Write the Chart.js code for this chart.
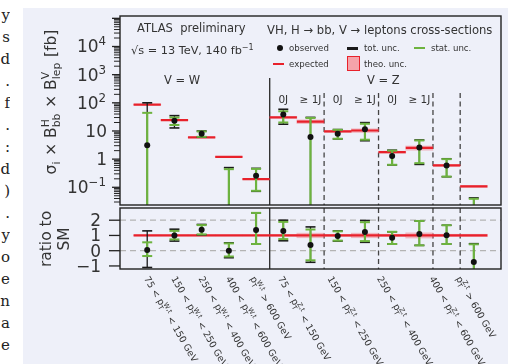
<!DOCTYPE html>
<html lang="en">
<head>
<meta charset="UTF-8">
<title>VH, H to bb cross-sections</title>
<script src="https://cdn.jsdelivr.net/npm/chart.js"></script>
<style>
  body { margin: 0; width: 508px; height: 364px; overflow: hidden; background: #fff; position: relative;
         font-family: 'DejaVu Sans', sans-serif; color: #333; }
  .page { position: absolute; left: 23px; top: 8px; right: 0; bottom: 0; background: #eef0f9; }
  .margin { position: absolute; left: 0; top: 4px; width: 10px; text-align: right; font-family: 'DejaVu Serif', serif;
            font-size: 15px; line-height: 22px; color: #222; overflow: hidden; }
  canvas { position: absolute; left: 0; }
  #main { top: 0; }
  #ratio { top: 200px; }
  .t { position: absolute; white-space: nowrap; line-height: 1; }
  .leg { font-size: 8.6px; }
  .sw { position: absolute; }
</style>
</head>
<body>
<div class="page"></div>
<div class="margin">y<br>s<br>d<br>.<br>f<br>.<br>:<br>d<br>)<br>.<br>y<br>o<br>e<br>n<br>a<br>e</div>

<canvas id="main" width="508" height="212"></canvas>
<canvas id="ratio" width="508" height="164"></canvas>

<div class="t" style="left:137px;top:22.5px;font-size:11.5px">ATLAS&nbsp; preliminary</div>
<div class="t" style="left:131px;top:44.5px;font-size:11.3px">√s = 13 TeV, 140 fb<span style="font-size:8px;position:relative;top:-4px">−1</span></div>
<div class="t" style="left:164px;top:74.5px;font-size:11.5px">V = W</div>
<div class="t" style="left:367px;top:74.5px;font-size:11.5px">V = Z</div>
<div class="t" style="left:267px;top:24.5px;font-size:11.6px">VH, H → bb, V → leptons cross-sections</div>

<!-- legend -->
<div class="sw" style="left:277px;top:45px;width:6px;height:6px;border-radius:50%;background:#111"></div>
<div class="t leg" style="left:289px;top:44px">observed</div>
<div class="sw" style="left:347px;top:47px;width:11px;height:2.5px;background:#1a1a1a"></div>
<div class="t leg" style="left:364px;top:44px">tot. unc.</div>
<div class="sw" style="left:414px;top:47px;width:11px;height:2px;background:#6db33f"></div>
<div class="t leg" style="left:431px;top:44px">stat. unc.</div>
<div class="sw" style="left:273px;top:63px;width:11px;height:2px;background:#e8212b"></div>
<div class="t leg" style="left:289px;top:60px">expected</div>
<div class="sw" style="left:347px;top:56px;width:11px;height:13px;background:#f5a3aa;border:1px solid #e8212b"></div>
<div class="t leg" style="left:364px;top:60px">theo. unc.</div>

<script>
const FONT = "'DejaVu Sans', sans-serif";
const INK = '#333';
const RED = '#e8212b';
const GREEN = '#6db33f';
const BLACK = '#1a1a1a';
const BAND = 'rgba(240, 110, 122, 0.45)';

// 13 bins: 5 for V = W, 8 for V = Z
const binNames = ['W 75-150', 'W 150-250', 'W 250-400', 'W 400-600', 'W >600',
  'Z 75-150 0J', 'Z 75-150 >=1J', 'Z 150-250 0J', 'Z 150-250 >=1J',
  'Z 250-400 0J', 'Z 250-400 >=1J', 'Z 400-600', 'Z >600'];
const jetLabels = ['', '', '', '', '', '0J', '≥ 1J', '0J', '≥ 1J', '0J', '≥ 1J', '', ''];

// upper panel, fb (1e-3 = below the axis)
const expected = [86, 24.4, 5.9, 1.21, 0.195, 30.4, 21.5, 9.6, 10.4, 1.77, 2.5, 0.60, 0.108];
const observed = [3.1, 23.3, 7.9, null, 0.257, 38.6, 6.1, 7.9, 11.6, 1.28, 2.6, 0.60, null];
const totLo  = [1e-3, 12.8, 6.0, 1e-3, 0.072, 17.4, 1e-3, 5.2, 4.5, 0.62, 0.65, 0.237, 1e-3];
const totHi  = [100, 35, 10, 0.5, 0.47, 59, 30.4, 11.2, 19.8, 2.08, 4.8, 1.03, 0.042];
const statLo = [1e-3, 16.3, 6.2, 1e-3, 0.075, 20, 1e-3, 5.3, 4.9, 0.63, 0.72, 0.24, 1e-3];
const statHi = [44, 30, 9.6, 0.44, 0.45, 50, 29, 11.0, 18, 2.0, 4.6, 1.0, 0.039];
const theoRel = [0.03, 0.03, 0.03, 0.03, 0.03, 0.06, 0.15, 0.07, 0.15, 0.08, 0.17, 0.08, 0.08];

// ratio panel
const smRatio = 1;
const ratioObs    = [0.05, 1.0, 1.37, 0.0, 1.35, 1.3, 0.37, 0.96, 1.22, 0.85, 1.1, 1.02, -0.74];
const ratioTotLo  = [-1.1, 0.63, 1.04, -0.46, 0.44, 0.65, -0.76, 0.63, 0.55, 0.44, 0.35, 0.44, -2];
const ratioTotHi  = [1.3, 1.41, 1.72, 0.52, 2.48, 2.0, 1.56, 1.3, 1.98, 1.24, 1.95, 1.67, 0.46];
const ratioStatLo = [-0.35, 0.74, 1.07, -0.38, 0.44, 0.76, -0.63, 0.66, 0.63, 0.44, 0.35, 0.44, -2];
const ratioStatHi = [0.55, 1.3, 1.68, 0.48, 2.48, 1.89, 1.39, 1.27, 1.87, 1.24, 1.95, 1.67, 0.42];
const ratioGuides = [0, 2];

// axes
const yTickValues = [0.1, 1, 10, 100, 1000, 10000];
const yTickLabels = [['10', {sup: '−1'}], ['1'], ['10'], ['10', {sup: '2'}], ['10', {sup: '3'}], ['10', {sup: '4'}]];
const ratioTicks = [-1, 0, 1, 2];
const ratioTickLabels = ['−1', '0', '1', '2'];
const wzBoundary = [5];
const ptBoundaries = [7, 9, 11, 12];
const xLabelAt = [0.6, 1.6, 2.6, 3.6, 4.5, 5.52, 7.34, 9.16, 11.08, 12.06];
const pW = {sup: 'W,t', sub: 'T'};
const pZ = {sup: 'Z,t', sub: 'T'};
const xLabels = [
  ['75 < p', pW, ' < 150 GeV'], ['150 < p', pW, ' < 250 GeV'], ['250 < p', pW, ' < 400 GeV'],
  ['400 < p', pW, ' < 600 GeV'], ['p', pW, ' > 600 GeV'],
  ['75 < p', pZ, ' < 150 GeV'], ['150 < p', pZ, ' < 250 GeV'], ['250 < p', pZ, ' < 400 GeV'],
  ['400 < p', pZ, ' < 600 GeV'], ['p', pZ, ' > 600 GeV']
];
const yTitle = ['σ', {sub: 'i'}, ' × B', {sup: 'H', sub: 'bb'}, ' × B', {sup: 'V', sub: 'lep'}, ' [fb]'];

// text with sub/superscripts, returns width
function rich(ctx, parts, x, y, size, draw) {
  let cx = x;
  for (const p of parts) {
    if (typeof p === 'string') {
      ctx.font = size + 'px ' + FONT;
      if (draw) ctx.fillText(p, cx, y);
      cx += ctx.measureText(p).width;
    } else {
      const s = size * 0.7;
      ctx.font = s + 'px ' + FONT;
      let w = 0;
      if (p.sup) { if (draw) ctx.fillText(p.sup, cx, y - size * 0.42); w = Math.max(w, ctx.measureText(p.sup).width); }
      if (p.sub) { if (draw) ctx.fillText(p.sub, cx, y + size * 0.25); w = Math.max(w, ctx.measureText(p.sub).width); }
      cx += w + size * 0.05;
    }
  }
  return cx - x;
}

const centers = binNames.map((_, i) => i + 0.5);

function segs(lo, hi) {
  const out = [];
  centers.forEach((c, i) => { out.push({x: c, y: lo[i]}, {x: c, y: hi[i]}, {x: c, y: null}); });
  return out;
}
function caps(lo, hi) {
  const out = [];
  centers.forEach((c, i) => { out.push({x: c, y: lo[i]}, {x: c, y: hi[i]}); });
  return out;
}
function errorSets(lo, hi, color, width, capWidth, order) {
  return [
    {type: 'scatter', data: caps(lo, hi), pointStyle: 'line', pointRadius: 5,
     pointBorderColor: color, pointBorderWidth: capWidth, order: order, clip: 0},
    {type: 'line', data: segs(lo, hi), borderColor: color, borderWidth: width, pointRadius: 0,
     spanGaps: false, order: order + 1, clip: 0}
  ];
}
function points(vals) {
  return centers.map((c, i) => ({x: c, y: vals[i]}));
}
function bandSet(lo, hi) {
  return {type: 'bar', data: centers.map((c, i) => ({x: c, y: [lo[i], hi[i]]})), backgroundColor: BAND,
          grouped: false, barPercentage: 1, categoryPercentage: 1, order: 9};
}

function yAxis(extra) {
  return Object.assign({
    position: 'left', bounds: 'data',
    grid: {display: false}, border: {display: false}, ticks: {display: false},
    afterFit(s) { s.width = 120; }
  }, extra);
}
const xAxis = {type: 'linear', min: 0, max: 13, display: false, ticks: {stepSize: 1}};

function drawFrame(ctx, a) {
  ctx.strokeStyle = '#222';
  ctx.lineWidth = 1.4;
  ctx.setLineDash([]);
  ctx.strokeRect(a.left, a.top, a.right - a.left, a.bottom - a.top);
}
function drawSeparators(ctx, a, x, solidTop, dashTop) {
  ctx.strokeStyle = '#333';
  ctx.lineWidth = 1.4;
  wzBoundary.forEach(v => {
    const px = x.getPixelForValue(v);
    ctx.beginPath(); ctx.moveTo(px, solidTop); ctx.lineTo(px, a.bottom); ctx.stroke();
  });
  ctx.setLineDash([5, 3.5]);
  ctx.lineWidth = 1.3;
  ctx.strokeStyle = '#444';
  ptBoundaries.forEach(v => {
    const px = x.getPixelForValue(v);
    ctx.beginPath(); ctx.moveTo(px, dashTop); ctx.lineTo(px, a.bottom); ctx.stroke();
  });
  ctx.setLineDash([]);
}

const upperDeco = {
  id: 'upperDeco',
  beforeDatasetsDraw(chart) {
    const {ctx, chartArea: a, scales: {x}} = chart;
    ctx.save();
    drawSeparators(ctx, a, x, a.top + 62, a.top + 77);
    ctx.restore();
  },
  afterDraw(chart) {
    const {ctx, chartArea: a, scales: {x, y}} = chart;
    ctx.save();
    drawFrame(ctx, a);
    // log ticks, outside the frame
    for (let d = -2; d <= 5; d++) {
      for (let m = 1; m <= 9; m++) {
        const v = m * Math.pow(10, d);
        if (v < y.min || v > y.max) continue;
        const py = y.getPixelForValue(v);
        const len = m === 1 ? 8 : 6;
        ctx.lineWidth = m === 1 ? 1.3 : 1;
        ctx.beginPath(); ctx.moveTo(a.left - len, py); ctx.lineTo(a.left, py); ctx.stroke();
      }
    }
    ctx.fillStyle = INK;
    ctx.textAlign = 'left';
    ctx.textBaseline = 'alphabetic';
    yTickValues.forEach((v, i) => {
      const w = rich(ctx, yTickLabels[i], 0, 0, 17, false);
      rich(ctx, yTickLabels[i], a.left - 13 - w, y.getPixelForValue(v) + 6, 17, true);
    });
    ctx.font = '10.5px ' + FONT;
    ctx.textAlign = 'center';
    jetLabels.forEach((t, i) => { if (t) ctx.fillText(t, x.getPixelForValue(centers[i]), a.top + 87); });
    ctx.textAlign = 'left';
    ctx.translate(56, 102);
    ctx.rotate(-Math.PI / 2);
    const w = rich(ctx, yTitle, 0, 0, 15.5, false);
    rich(ctx, yTitle, -w / 2, 0, 15.5, true);
    ctx.restore();
  }
};

const ratioDeco = {
  id: 'ratioDeco',
  beforeDatasetsDraw(chart) {
    const {ctx, chartArea: a, scales: {x, y}} = chart;
    ctx.save();
    ctx.strokeStyle = '#b4b4b4';
    ctx.lineWidth = 1.2;
    ctx.setLineDash([6, 4]);
    ratioGuides.forEach(v => {
      const py = y.getPixelForValue(v);
      ctx.beginPath(); ctx.moveTo(a.left, py); ctx.lineTo(a.right, py); ctx.stroke();
    });
    ctx.setLineDash([]);
    drawSeparators(ctx, a, x, a.top, a.top);
    ctx.restore();
  },
  afterDraw(chart) {
    const {ctx, chartArea: a, scales: {x, y}} = chart;
    ctx.save();
    drawFrame(ctx, a);
    ctx.lineWidth = 1.3;
    ratioTicks.forEach(v => {
      const py = y.getPixelForValue(v);
      ctx.beginPath(); ctx.moveTo(a.left - 11, py); ctx.lineTo(a.left, py); ctx.stroke();
    });
    ctx.fillStyle = INK;
    ctx.textAlign = 'right';
    ctx.font = '17px ' + FONT;
    ratioTicks.forEach((v, i) => ctx.fillText(ratioTickLabels[i], a.left - 19, y.getPixelForValue(v) + 6));
    ctx.textAlign = 'left';
    xLabels.forEach((parts, i) => {
      ctx.save();
      ctx.translate(x.getPixelForValue(xLabelAt[i]), a.bottom + 6);
      ctx.rotate(Math.PI / 3);
      rich(ctx, parts, 0, 7, 9.4, true);
      ctx.restore();
    });
    ctx.font = '15.5px ' + FONT;
    ctx.textAlign = 'center';
    ctx.translate(51, 39);
    ctx.rotate(-Math.PI / 2);
    ctx.fillText('ratio to', 0, 0);
    ctx.fillText('SM', 0, 18);
    ctx.restore();
  }
};

const common = {
  responsive: false, animation: false, devicePixelRatio: 1, events: [],
  plugins: {legend: {display: false}, tooltip: {enabled: false}}
};

const expLine = [];
expected.forEach((e, i) => { expLine.push({x: i, y: e}, {x: i + 1, y: e}, {x: i + 1, y: null}); });

new Chart(document.getElementById('main'), {
  type: 'scatter',
  data: {
    datasets: [
      {type: 'scatter', data: points(observed), pointRadius: 3, pointBackgroundColor: '#111', pointBorderWidth: 0, order: 1, clip: 0},
      ...errorSets(statLo, statHi, GREEN, 2.2, 2, 2),
      ...errorSets(totLo, totHi, BLACK, 1.3, 1.6, 4),
      {type: 'line', data: expLine, borderColor: RED, borderWidth: 2.2, pointRadius: 0, spanGaps: false, order: 8},
      bandSet(expected.map((e, i) => e * (1 - theoRel[i])), expected.map((e, i) => e * (1 + theoRel[i])))
    ]
  },
  options: Object.assign({}, common, {
    layout: {padding: {top: 16, right: 2, bottom: 4, left: 0}},
    scales: {x: xAxis, y: yAxis({type: 'logarithmic', min: 0.0235, max: 1.21e5})}
  }),
  plugins: [upperDeco]
});

new Chart(document.getElementById('ratio'), {
  type: 'scatter',
  data: {
    datasets: [
      {type: 'scatter', data: points(ratioObs), pointRadius: 3, pointBackgroundColor: '#111', pointBorderWidth: 0, order: 1, clip: 0},
      ...errorSets(ratioStatLo, ratioStatHi, GREEN, 2.2, 2, 2),
      ...errorSets(ratioTotLo, ratioTotHi, BLACK, 1.3, 1.6, 4),
      {type: 'line', data: [{x: 0, y: smRatio}, {x: 13, y: smRatio}], borderColor: RED, borderWidth: 2.2, pointRadius: 0, order: 8},
      bandSet(theoRel.map(t => smRatio - t), theoRel.map(t => smRatio + t))
    ]
  },
  options: Object.assign({}, common, {
    layout: {padding: {top: 8, right: 2, bottom: 95, left: 0}},
    scales: {x: xAxis, y: yAxis({type: 'linear', min: -1.2, max: 2.8})}
  }),
  plugins: [ratioDeco]
});
</script>
</body>
</html>
